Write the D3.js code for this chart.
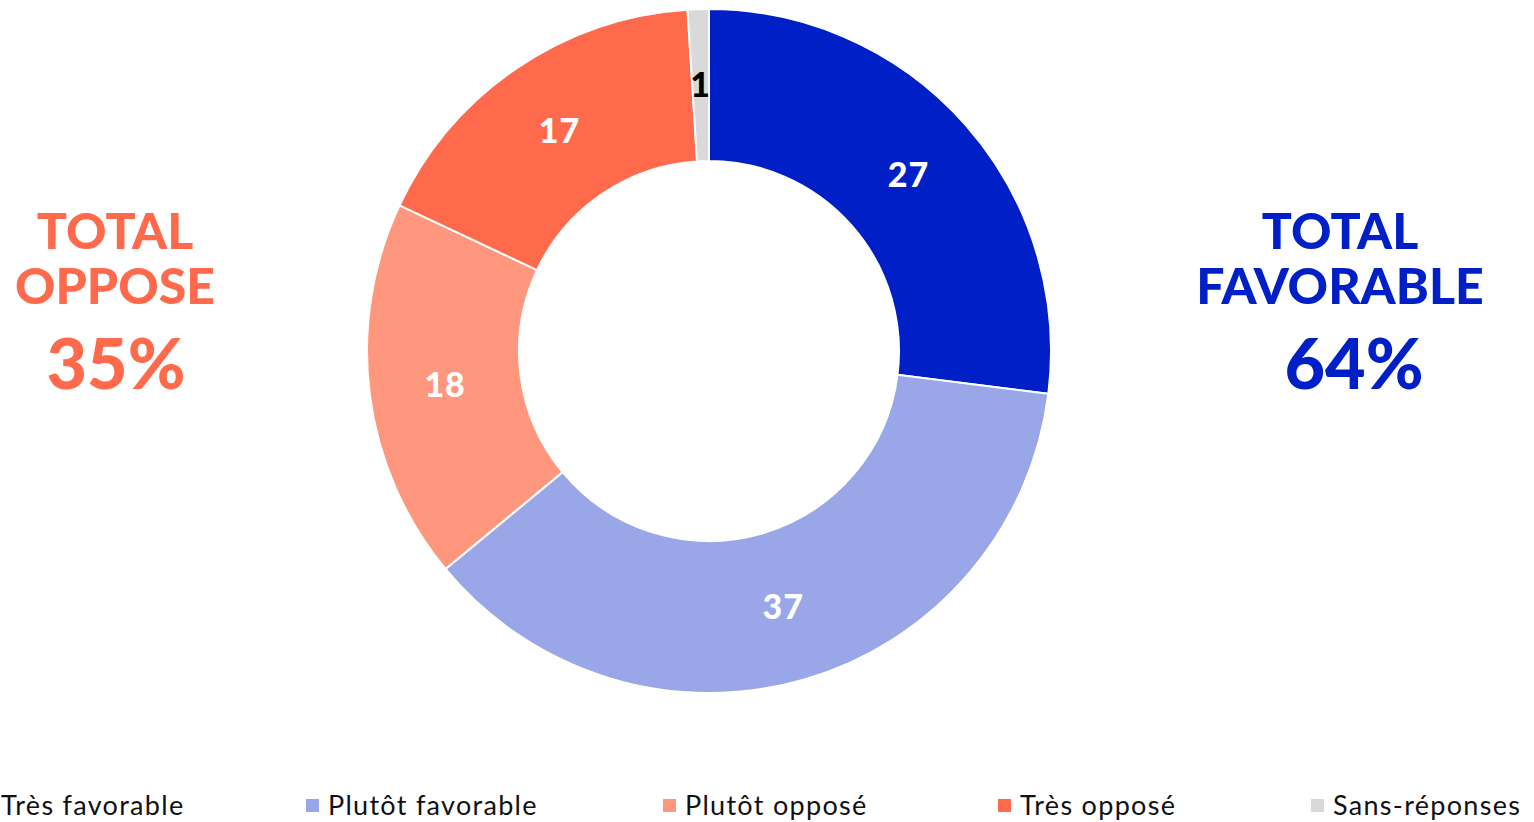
<!DOCTYPE html>
<html>
<head>
<meta charset="utf-8">
<script src="https://cdn.jsdelivr.net/npm/d3@7"></script>
<style>
  html, body { margin: 0; padding: 0; background: #fff; overflow: hidden; }
  svg { display: block; }
</style>
</head>
<body>
<svg id="chart" width="1534" height="822"></svg>
<script>
// ---- data ----
const categories = ["Très favorable", "Plutôt favorable", "Plutôt opposé", "Très opposé", "Sans-réponses"];
const values = [27, 37, 18, 17, 1];
const colors = ["#001FC7", "#99A6E8", "#FF977F", "#FF6A4D", "#D9D9D9"];
const labelColors = ["#FFFFFF", "#FFFFFF", "#FFFFFF", "#FFFFFF", "#000000"];
const totalLeftLines = ["TOTAL", "OPPOSE"];
const totalLeftValue = "35%";
const totalRightLines = ["TOTAL", "FAVORABLE"];
const totalRightValue = "64%";

// ---- layout ----
const svg = d3.select("#chart");
const cx = 709, cy = 351;
const outerR = 342, innerR = 190;
const font = "Lato, 'Noto Sans', sans-serif";

const data = categories.map((c, i) => ({ cat: c, value: values[i], color: colors[i], lc: labelColors[i] }));

const pie = d3.pie().value(d => d.value).sort(null);
const arc = d3.arc().innerRadius(innerR).outerRadius(outerR);
const arcs = pie(data);

const g = svg.append("g").attr("transform", `translate(${cx},${cy})`);
g.selectAll("path.slice")
  .data(arcs)
  .join("path")
  .attr("class", "slice")
  .attr("d", arc)
  .attr("fill", d => d.data.color)
  .attr("stroke", "#fff")
  .attr("stroke-width", 2);

g.selectAll("text.lbl")
  .data(arcs)
  .join("text")
  .attr("class", "lbl")
  .attr("transform", d => `translate(${arc.centroid(d)})`)
  .attr("text-anchor", "middle")
  .attr("dy", "0.36em")
  .attr("font-family", font)
  .attr("font-weight", 900)
  .attr("font-size", 34)
  .attr("letter-spacing", 1)
  .attr("fill", d => d.data.lc)
  .text(d => d.data.value);

// ---- totals ----
function totals(x, xVal, lines, val, color) {
  const t = svg.append("g").attr("fill", color).attr("font-family", font).attr("font-weight", 900).attr("text-anchor", "middle");
  t.append("text").attr("x", x).attr("y", 249).attr("font-size", 50).text(lines[0]);
  t.append("text").attr("x", x).attr("y", 304).attr("font-size", 50).text(lines[1]);
  t.append("text").attr("x", xVal).attr("y", 389).attr("font-size", 70).text(val);
}
totals(115, 116, totalLeftLines, totalLeftValue, colors[3]);
totals(1340, 1354, totalRightLines, totalRightValue, colors[0]);

// ---- legend ----
const legendX = [-21, 306, 663, 998, 1311];
const lg = svg.append("g");
const items = lg.selectAll("g.item").data(data).join("g")
  .attr("class", "item")
  .attr("transform", (d, i) => `translate(${legendX[i]},0)`);
items.append("rect")
  .attr("x", 0).attr("y", 799).attr("width", 13).attr("height", 13)
  .attr("fill", d => d.color);
items.append("text")
  .attr("x", 22).attr("y", 815)
  .attr("font-family", font)
  .attr("font-size", 27)
  .attr("letter-spacing", 1.3)
  .attr("fill", "#111")
  .text(d => d.cat);
</script>
</body>
</html>
